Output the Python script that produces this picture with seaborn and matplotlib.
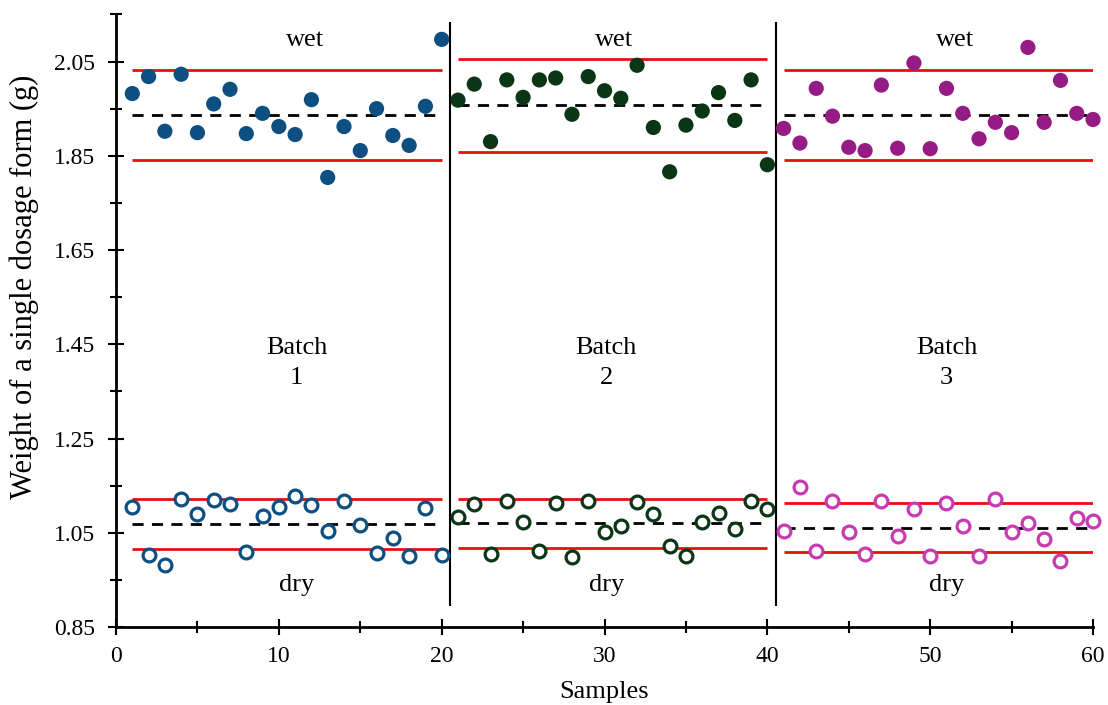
import numpy as np
import pandas as pd
import seaborn as sns
from matplotlib import pyplot as plt
from matplotlib.ticker import MultipleLocator

# weight of single dosage forms
wet_b1 = [1.982, 2.018, 1.902, 2.023, 1.899, 1.960, 1.991, 1.897, 1.940, 1.912,
          1.895, 1.969, 1.804, 1.912, 1.861, 1.950, 1.893, 1.872, 1.955, 2.097]
wet_b2 = [1.968, 2.002, 1.880, 2.011, 1.974, 2.011, 2.015, 1.938, 2.018, 1.988,
          1.972, 2.042, 1.910, 1.816, 1.915, 1.945, 1.984, 1.925, 2.011, 1.831]
wet_b3 = [1.908, 1.877, 1.993, 1.934, 1.868, 1.861, 2.000, 1.866, 2.047, 1.865,
          1.993, 1.940, 1.886, 1.921, 1.899, 2.080, 1.921, 2.010, 1.940, 1.927]

dry_b1 = [1.105, 1.003, 0.981, 1.121, 1.090, 1.119, 1.112, 1.009, 1.086, 1.104,
          1.128, 1.109, 1.054, 1.117, 1.067, 1.008, 1.039, 1.001, 1.103, 1.003]
dry_b2 = [1.083, 1.112, 1.005, 1.117, 1.072, 1.011, 1.114, 0.999, 1.117, 1.051,
          1.065, 1.115, 1.090, 1.021, 1.000, 1.073, 1.093, 1.059, 1.117, 1.100]
dry_b3 = [1.054, 1.148, 1.011, 1.118, 1.052, 1.004, 1.118, 1.044, 1.100, 1.000,
          1.114, 1.064, 1.001, 1.121, 1.052, 1.071, 1.037, 0.990, 1.081, 1.076]

# mean and limits per batch: (lower, mean, upper)
wet_lims = [(1.840, 1.937, 2.032), (1.859, 1.957, 2.055), (1.840, 1.937, 2.032)]
dry_lims = [(1.015, 1.068, 1.121), (1.017, 1.071, 1.122), (1.009, 1.061, 1.114)]

batch_names = ["1", "2", "3"]
wet_colors = ["#0c4f80", "#0b3616", "#961c85"]
dry_colors = ["#0c4f80", "#0b3616", "#c83bb0"]

wet = [wet_b1, wet_b2, wet_b3]
dry = [dry_b1, dry_b2, dry_b3]

plt.rcParams['font.family'] = ['Liberation Serif', 'DejaVu Serif']

fig = plt.figure(figsize=(11.08, 7.05), dpi=100)
ax = fig.add_axes([0.1047, 0.1106, 0.8818, 0.869])

for i in range(3):
    samples = np.arange(1, 21) + 20 * i
    df = pd.DataFrame({"sample": samples, "wet": wet[i], "dry": dry[i]})
    sns.scatterplot(data=df, x="sample", y="wet", ax=ax, s=120,
                    color=wet_colors[i], edgecolor="none", zorder=3, clip_on=False)
    sns.scatterplot(data=df, x="sample", y="dry", ax=ax, s=85,
                    facecolor="white", edgecolor=dry_colors[i], linewidth=2.3,
                    zorder=3, clip_on=False)
    x0, x1 = samples[0], samples[-1]
    for lo, mid, hi in (wet_lims[i], dry_lims[i]):
        ax.hlines([lo, hi], x0, x1, colors="#e8100f", lw=2, zorder=2)
        ax.hlines(mid, x0, x1, colors="black", lw=2, linestyles=(0, (4, 3)), zorder=2)

    cx = [11.6, 30.6, 51.5][i]
    ax.text(cx, 2.095, "wet", ha="center", va="center", fontsize=19)
    ax.text(cx - 0.5, 1.41, "Batch\n" + batch_names[i], ha="center", va="center",
            fontsize=19, linespacing=1.45)
    ax.text(cx - 0.5, 0.94, "dry", ha="center", va="center", fontsize=19)

# separators between batches
ax.vlines([20.5, 40.5], 0.895, 2.133, colors="black", lw=1.5)

ax.set_xlim(0, 60)
ax.set_ylim(0.85, 2.15)
ax.xaxis.set_major_locator(MultipleLocator(10))
ax.xaxis.set_minor_locator(MultipleLocator(5))
ax.set_yticks([0.85, 1.05, 1.25, 1.45, 1.65, 1.85, 2.05])
ax.set_yticks(np.arange(0.95, 2.2, 0.2), minor=True)
ax.set_yticklabels(["0.85", "1.05", "1.25", "1.45", "1.65", "1.85", "2.05"])

for s in ["top", "right"]:
    ax.spines[s].set_visible(False)
for s in ["left", "bottom"]:
    ax.spines[s].set_linewidth(2)

ax.tick_params(which="major", direction="inout", length=12, width=1.5, labelsize=17)
ax.tick_params(axis="y", which="major", pad=9)
ax.tick_params(axis="x", which="major", pad=8)
ax.tick_params(which="minor", direction="inout", length=8, width=1.5)

ax.set_xlabel("Samples", fontsize=19, labelpad=10)
ax.set_ylabel("Weight of a single dosage form (g)", fontsize=22)
ax.yaxis.set_label_coords(-0.079, 0.555)

plt.savefig("out.png", dpi=100)
